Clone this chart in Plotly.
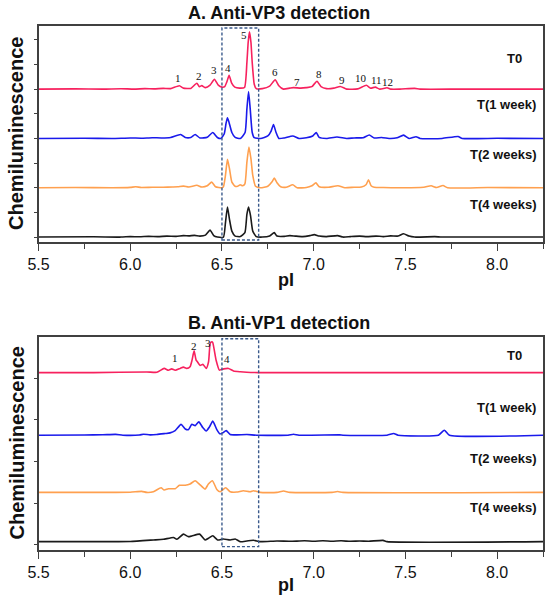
import plotly.graph_objects as go

# --- Panel A (anti-VP3): pI positions and signal above each trace's own baseline ---
a_t0_pi = [5.50, 5.70, 5.85, 5.95, 6.02, 6.08, 6.13, 6.18, 6.22, 6.268, 6.29, 6.33, 6.363, 6.377,
           6.39, 6.41, 6.435, 6.459, 6.48, 6.50, 6.515, 6.527, 6.539, 6.553, 6.57, 6.596, 6.623,
           6.636, 6.643, 6.650, 6.658, 6.665, 6.676, 6.687, 6.72, 6.76, 6.79, 6.81, 6.835, 6.87,
           6.89, 6.93, 6.96, 6.99, 7.018, 7.04, 7.07, 7.11, 7.145, 7.18, 7.24, 7.287, 7.31, 7.336,
           7.36, 7.40, 7.42, 7.47, 7.55, 7.58, 7.80, 8.25]
a_t0_sig = [0.0, 0.005, 0.0, 0.008, 0.0, 0.01, 0.005, 0.015, 0.01, 0.068, 0.02, 0.015, 0.12, 0.05,
            0.07, 0.03, 0.08, 0.20, 0.08, 0.04, 0.05, 0.15, 0.28, 0.12, 0.04, 0.02, 0.034,
            0.54, 0.95, 1.16, 0.95, 0.54, 0.10, 0.01, 0.01, 0.06, 0.19, 0.07, 0.0, 0.02,
            0.03, 0.02, 0.03, 0.05, 0.16, 0.05, 0.01, 0.02, 0.054, 0.0, 0.005, 0.08, 0.02, 0.04,
            0.0, 0.027, 0.0, 0.0, 0.015, 0.0, 0.0, 0.0]

a_t1_pi = [5.50, 5.75, 5.90, 6.00, 6.06, 6.12, 6.17, 6.22, 6.275, 6.30, 6.33, 6.354, 6.38, 6.42,
           6.45, 6.475, 6.494, 6.512, 6.523, 6.530, 6.539, 6.554, 6.572, 6.60, 6.626, 6.636, 6.645,
           6.654, 6.665, 6.676, 6.71, 6.75, 6.768, 6.781, 6.795, 6.81, 6.84, 6.886, 6.92, 6.96,
           6.995, 7.014, 7.03, 7.07, 7.127, 7.18, 7.22, 7.27, 7.303, 7.33, 7.37, 7.42, 7.455,
           7.49, 7.52, 7.558, 7.58, 7.70, 7.787, 7.81, 8.00, 8.25]
a_t1_sig = [0.0, 0.005, 0.0, 0.01, 0.005, 0.015, 0.01, 0.02, 0.08, 0.02, 0.02, 0.08, 0.01, 0.025,
            0.12, 0.02, 0.0, 0.09, 0.32, 0.42, 0.32, 0.12, 0.02, 0.0, 0.12, 0.60, 0.95,
            0.60, 0.12, 0.015, 0.0, 0.05, 0.15, 0.28, 0.12, 0.0, 0.01, 0.05, 0.0, 0.015,
            0.05, 0.12, 0.02, 0.0, 0.03, 0.0, 0.01, 0.015, 0.07, 0.01, 0.02, 0.0, 0.015,
            0.068, 0.0, 0.034, 0.0, 0.0, 0.04, 0.0, 0.003, 0.0]

a_t2_pi = [5.50, 5.70, 5.90, 6.00, 6.03, 6.06, 6.12, 6.18, 6.23, 6.26, 6.29, 6.32, 6.363, 6.39,
           6.42, 6.444, 6.465, 6.50, 6.508, 6.519, 6.530, 6.541, 6.554, 6.572, 6.585, 6.60, 6.612,
           6.625, 6.636, 6.647, 6.658, 6.668, 6.683, 6.71, 6.75, 6.773, 6.785, 6.80, 6.82, 6.85,
           6.886, 6.91, 6.96, 6.99, 7.012, 7.03, 7.08, 7.132, 7.17, 7.22, 7.26, 7.285, 7.299,
           7.313, 7.33, 7.38, 7.45, 7.60, 7.64, 7.67, 7.705, 7.73, 7.95, 8.25]
a_t2_sig = [0.0, 0.005, 0.0, 0.008, 0.02, 0.005, 0.01, 0.01, 0.015, 0.02, 0.034, 0.015, 0.05, 0.015,
            0.04, 0.115, 0.02, 0.0, 0.02, 0.25, 0.575, 0.385, 0.115, 0.03, 0.03, 0.06, 0.04,
            0.08, 0.52, 0.825, 0.59, 0.25, 0.03, 0.0, 0.03, 0.12, 0.196, 0.10, 0.02, 0.01,
            0.06, 0.0, 0.005, 0.04, 0.10, 0.02, 0.01, 0.04, 0.0, 0.01, 0.015, 0.06, 0.16,
            0.04, 0.01, 0.005, 0.0, 0.01, 0.04, 0.005, 0.045, 0.0, 0.005, 0.0]

a_t4_pi = [5.50, 5.80, 5.95, 6.00, 6.05, 6.10, 6.15, 6.20, 6.25, 6.29, 6.32, 6.35, 6.38, 6.41,
           6.435, 6.455, 6.475, 6.508, 6.519, 6.530, 6.541, 6.554, 6.572, 6.60, 6.625, 6.636,
           6.645, 6.656, 6.668, 6.687, 6.72, 6.76, 6.785, 6.80, 6.84, 6.87, 6.90, 6.94, 6.98,
           7.003, 7.03, 7.07, 7.13, 7.16, 7.20, 7.25, 7.29, 7.34, 7.38, 7.42, 7.46, 7.49, 7.52,
           7.55, 7.66, 7.70, 8.25]
a_t4_sig = [0.0, 0.005, 0.0, 0.01, 0.005, 0.015, 0.01, 0.02, 0.015, 0.03, 0.025, 0.035, 0.02, 0.04,
            0.14, 0.03, 0.0, 0.0, 0.29, 0.61, 0.36, 0.12, 0.02, 0.01, 0.09, 0.46,
            0.61, 0.43, 0.12, 0.01, 0.0, 0.02, 0.09, 0.02, 0.015, 0.03, 0.02, 0.01, 0.03,
            0.05, 0.02, 0.01, 0.03, 0.0, 0.01, 0.02, 0.01, 0.02, 0.01, 0.025, 0.02, 0.068, 0.02,
            0.0, 0.008, 0.0, 0.0]

# --- Panel B (anti-VP1) ---
b_t0_pi = [5.50, 5.80, 6.09, 6.145, 6.185, 6.208, 6.226, 6.245, 6.272, 6.29, 6.308, 6.326, 6.337,
           6.348, 6.359, 6.366, 6.381, 6.396, 6.414, 6.427, 6.436, 6.445, 6.45, 6.468, 6.486,
           6.509, 6.536, 6.563, 6.60, 6.635, 6.70, 8.25]
b_t0_sig = [0.0, 0.0, 0.016, 0.008, 0.10, 0.056, 0.088, 0.056, 0.10, 0.13, 0.10, 0.14, 0.30,
            0.52, 0.30, 0.26, 0.17, 0.20, 0.10, 0.26, 0.70, 0.74, 0.72, 0.30, 0.06,
            0.09, 0.10, 0.04, 0.02, 0.008, 0.0, 0.0]

b_t1_pi = [5.50, 5.75, 5.85, 5.92, 5.96, 6.05, 6.072, 6.108, 6.145, 6.19, 6.217, 6.245, 6.277,
           6.30, 6.318, 6.336, 6.354, 6.374, 6.396, 6.414, 6.432, 6.45, 6.472, 6.49, 6.505,
           6.523, 6.545, 6.581, 6.636, 6.69, 6.86, 6.89, 6.92, 7.141, 7.16, 7.40, 7.436, 7.46,
           7.68, 7.712, 7.74, 8.25]
b_t1_sig = [0.0, 0.005, 0.01, 0.02, 0.0, 0.005, 0.024, 0.008, 0.016, 0.04, 0.056, 0.11, 0.26,
            0.15, 0.135, 0.26, 0.23, 0.32, 0.18, 0.10, 0.20, 0.34, 0.135, 0.03, 0.06,
            0.11, 0.016, 0.008, 0.016, 0.0, 0.0, 0.024, 0.0, 0.008, 0.0, 0.0, 0.04, 0.0,
            0.0, 0.12, 0.0, 0.0]

b_t2_pi = [5.50, 5.80, 6.00, 6.063, 6.09, 6.126, 6.168, 6.185, 6.208, 6.245, 6.268, 6.30, 6.326,
           6.354, 6.381, 6.408, 6.426, 6.448, 6.472, 6.49, 6.52, 6.545, 6.581, 6.617, 6.654,
           6.672, 6.708, 6.80, 6.836, 6.87, 7.10, 7.13, 7.16, 8.25]
b_t2_sig = [0.0, 0.0, 0.005, 0.024, 0.0, 0.016, 0.11, 0.056, 0.088, 0.088, 0.17, 0.17, 0.20,
            0.28, 0.18, 0.08, 0.20, 0.28, 0.07, 0.016, 0.11, 0.016, 0.008, 0.04, 0.016,
            0.04, 0.0, 0.0, 0.032, 0.0, 0.0, 0.02, 0.0, 0.0]

b_t4_pi = [5.50, 5.90, 6.00, 6.126, 6.181, 6.236, 6.254, 6.29, 6.317, 6.336, 6.378, 6.408, 6.426,
           6.45, 6.476, 6.508, 6.545, 6.572, 6.599, 6.636, 6.672, 6.708, 6.80, 6.87, 6.95, 7.00,
           7.05, 7.10, 7.15, 7.20, 7.25, 7.30, 7.378, 7.40, 8.25]
b_t4_sig = [0.0, 0.0, 0.005, 0.04, 0.056, 0.10, 0.056, 0.18, 0.12, 0.136, 0.18, 0.04, 0.08,
            0.14, 0.04, 0.064, 0.04, 0.064, 0.0, 0.016, 0.032, 0.0, 0.016, 0.008, 0.02, 0.008,
            0.02, 0.01, 0.02, 0.008, 0.015, 0.01, 0.03, 0.0, 0.0]

# vertical stacking offsets of each time point
a_offsets = [3.0, 2.0, 1.0, 0.0]
b_offsets = [4.13, 2.63, 1.26, 0.08]

time_labels = ["T0", "T(1 week)", "T(2 weeks)", "T(4 weeks)"]
colors = ["#F7215E", "#1A1AEB", "#FFA04F", "#1a1a1a"]

# numbered peaks
a_peak_names = ["1", "2", "3", "4", "5", "6", "7", "8", "9", "10", "11", "12"]
a_peak_pi = [6.263, 6.377, 6.457, 6.532, 6.621, 6.79, 6.908, 7.028, 7.154, 7.258, 7.341, 7.403]
a_peak_y = [3.22, 3.26, 3.38, 3.42, 4.10, 3.34, 3.14, 3.31, 3.19, 3.22, 3.19, 3.14]
b_peak_names = ["1", "2", "3", "4"]
b_peak_pi = [6.245, 6.35, 6.425, 6.53]
b_peak_y = [4.49, 4.77, 4.83, 4.46]

FONT = "Arial, Liberation Sans, sans-serif"
SERIF = "Liberation Serif, Times New Roman, serif"
W, H = 550, 600

fig = go.Figure()

a_series = [(a_t0_pi, a_t0_sig), (a_t1_pi, a_t1_sig), (a_t2_pi, a_t2_sig), (a_t4_pi, a_t4_sig)]
b_series = [(b_t0_pi, b_t0_sig), (b_t1_pi, b_t1_sig), (b_t2_pi, b_t2_sig), (b_t4_pi, b_t4_sig)]

for (xs, ys), off, col in zip(a_series, a_offsets, colors):
    fig.add_trace(go.Scatter(x=xs, y=[v + off for v in ys], mode="lines",
                             line=dict(color=col, width=1.6, shape="spline", smoothing=0.5),
                             xaxis="x", yaxis="y", showlegend=False, hoverinfo="skip"))
for (xs, ys), off, col in zip(b_series, b_offsets, colors):
    fig.add_trace(go.Scatter(x=xs, y=[v + off for v in ys], mode="lines",
                             line=dict(color=col, width=1.6, shape="spline", smoothing=0.5),
                             xaxis="x2", yaxis="y2", showlegend=False, hoverinfo="skip"))


def px_x(p):
    return p / W


def px_y(p):
    return 1 - p / H


xdom = [px_x(38.5), px_x(543)]
axis_line = dict(showline=True, linecolor="#404040", linewidth=1.5, mirror=True,
                 showgrid=False, zeroline=False)
xcommon = dict(range=[5.5, 8.25], tick0=5.5, dtick=0.5, tickformat=".1f", ticks="outside",
               ticklen=7, tickwidth=1.3, tickcolor="#404040",
               minor=dict(dtick=0.25, ticks="outside", ticklen=5, tickwidth=1.3, tickcolor="#404040"),
               tickfont=dict(family=FONT, size=16, color="#111"), domain=xdom,
               automargin=False, **axis_line)
ycommon = dict(ticks="outside", ticklen=3, tickwidth=1.2, tickcolor="#404040",
               showticklabels=False, automargin=False, **axis_line)

fig.update_layout(
    width=W, height=H, autosize=False,
    margin=dict(l=0, r=0, t=0, b=0, pad=0, autoexpand=False),
    paper_bgcolor="white", plot_bgcolor="white",
    xaxis=dict(anchor="y", **xcommon),
    yaxis=dict(anchor="x", range=[-0.10, 4.28], tick0=0, dtick=0.5,
               domain=[px_y(242), px_y(26)], **ycommon),
    xaxis2=dict(anchor="y2", **xcommon),
    yaxis2=dict(anchor="x2", range=[-0.12, 4.99], tick0=0, dtick=1,
                domain=[px_y(550), px_y(336.7)], **ycommon),
)

# dashed boxes around the pI 6.5 - 6.7 window
box_line = dict(color="#3A5A8C", width=1.4, dash="3px,2px")
fig.add_shape(type="rect", xref="x", yref="y", x0=6.5, x1=6.7, y0=-0.06, y1=4.24, line=box_line)
fig.add_shape(type="rect", xref="x2", yref="y2", x0=6.5, x1=6.7, y0=-0.04, y1=4.94, line=box_line)

# peak numbers
for name, xp, yp in zip(a_peak_names, a_peak_pi, a_peak_y):
    fig.add_annotation(x=xp, y=yp, xref="x", yref="y", text=name, showarrow=False,
                       font=dict(family=SERIF, size=11, color="#111"))
for name, xp, yp in zip(b_peak_names, b_peak_pi, b_peak_y):
    fig.add_annotation(x=xp, y=yp, xref="x2", yref="y2", text=name, showarrow=False,
                       font=dict(family=SERIF, size=11, color="#111"))

# time point labels
bold13 = dict(family=FONT, size=13, color="#111")
a_label_y = [58, 104, 155, 204]
b_label_y = [355, 407, 458, 507]
for lab, ya, yb in zip(time_labels, a_label_y, b_label_y):
    if lab == "T0":
        xa, anchor = 514, "center"
    else:
        xa, anchor = 538, "right"
    for yc in (ya, yb):
        fig.add_annotation(x=px_x(xa), y=px_y(yc), xref="paper", yref="paper", text=f"<b>{lab}</b>",
                           showarrow=False, xanchor=anchor, yanchor="middle", font=bold13)

# panel titles and axis titles
for txt, yc in [("A. Anti-VP3 detection", 13), ("B. Anti-VP1 detection", 323)]:
    fig.add_annotation(x=px_x(186), y=px_y(yc), xref="paper", yref="paper", text=f"<b>{txt}</b>",
                       showarrow=False, xanchor="left", yanchor="middle",
                       font=dict(family=FONT, size=18, color="#111"))
for yc in [134, 443.5]:
    fig.add_annotation(x=px_x(16), y=px_y(yc), xref="paper", yref="paper",
                       text="<b>Chemiluminescence</b>", textangle=-90, showarrow=False,
                       xanchor="center", yanchor="middle",
                       font=dict(family=FONT, size=20, color="#111"))
for yc in [280, 585]:
    fig.add_annotation(x=px_x(286), y=px_y(yc), xref="paper", yref="paper", text="<b>pI</b>",
                       showarrow=False, xanchor="center", yanchor="middle",
                       font=dict(family=FONT, size=18, color="#111"))

# drop the default page margin and scrollbars so the 550x600 figure fills the window exactly
page_fix = ("document.body.style.margin='0px';"
            "document.body.style.overflow='hidden';"
            "document.documentElement.style.overflow='hidden';")
fig.write_html("out.html", post_script=page_fix, config={"displayModeBar": False})
